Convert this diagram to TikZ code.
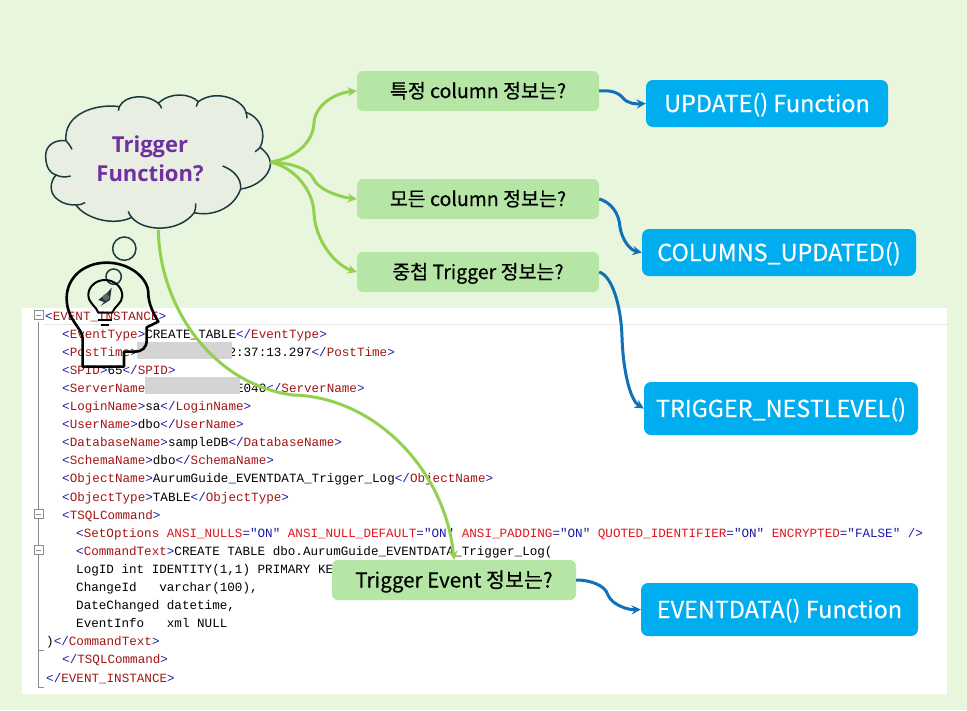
\documentclass[tikz,border=0pt]{standalone}
\usepackage{fontspec}
\setmainfont{Noto Sans CJK KR}[FakeBold=0.35]
\newfontfamily\codefont{Liberation Mono}
\newfontfamily\cloudfont{Open Sans}
\usetikzlibrary{calc}
\definecolor{bgcol}{HTML}{E9F6DE}
\definecolor{cloudcol}{HTML}{E8EFE2}
\definecolor{cloudline}{HTML}{1B3A40}
\definecolor{askcol}{HTML}{B6E6A6}
\definecolor{funccol}{HTML}{00AEEF}
\definecolor{greenline}{HTML}{92D050}
\definecolor{blueline}{HTML}{1070B8}
\definecolor{purpletext}{HTML}{7030A0}
\definecolor{xmlblue}{HTML}{1A1AA6}
\definecolor{xmlname}{HTML}{A31515}
\definecolor{xmlattr}{HTML}{E0141E}
\newcommand{\xo}[1]{\textcolor{xmlblue}{<}\textcolor{xmlname}{#1}\textcolor{xmlblue}{>}}
\newcommand{\xc}[1]{\textcolor{xmlblue}{</}\textcolor{xmlname}{#1}\textcolor{xmlblue}{>}}
\newcommand{\xa}[2]{\textcolor{xmlattr}{#1}\textcolor{xmlblue}{="#2"}}
\begin{document}
\begin{tikzpicture}[x=1pt, y=-1pt,
    ask/.style = {fill=askcol, rounded corners=6pt, minimum width=242pt, minimum height=40pt, inner sep=0pt, text height=18pt, text depth=4pt, font=\fontsize{19.5}{22}\selectfont},
    func/.style = {fill=funccol, text=white, rounded corners=7pt, inner sep=0pt, text height=22pt, text depth=5pt, font=\fontsize{23.4}{26}\selectfont},
    code/.style = {anchor=base west, inner sep=0pt, font=\codefont\fontsize{12.6}{15}\selectfont},
    hidden/.style = {fill=black!17},
    greenarrow/.style = {-stealth, line width=3pt, greenline},
    bluearrow/.style = {-stealth, line width=3pt, blueline},
    gutter/.style = {draw=black!45, line width=.7pt}]
  \useasboundingbox (0,0) rectangle (967,710);
  \fill [bgcol] (0,0) rectangle (967,710);
  \fill [white] (22,308) rectangle (947,694);
  \draw [black!10, line width=1pt] (44,324.5) -- (947,324.5);

  % tree gutter
  \draw [gutter] (38.5,322) -- (38.5,687) -- (44,687);
  \draw [gutter] (38.5,650) -- (44,650);
  \foreach \y in {315, 514, 550}
           {
             \draw [gutter, fill=white] (34,\y-4.5) rectangle +(9,9);
             \draw [gutter] (36,\y) -- (41,\y);
           }

  \node [code] (line0) at (45,320) {\xo{EVENT\_INSTANCE}};
  \node [code] (line1) at (62,338.1) {\xo{EventType}CREATE\_TABLE\xc{EventType}};
  \node [code] (line2) at (62,356.2) {\xo{PostTime}\hspace{90.7pt}2:37:13.297\xc{PostTime}};
  \node [code] (line3) at (62,374.3) {\xo{SPID}65\xc{SPID}};
  \node [code] (line4) at (62,392.4) {\textcolor{xmlblue}{<}\textcolor{xmlname}{ServerName}\hspace{90.7pt}E040\xc{ServerName}};
  \node [code] (line5) at (62,410.5) {\xo{LoginName}sa\xc{LoginName}};
  \node [code] (line6) at (62,428.6) {\xo{UserName}dbo\xc{UserName}};
  \node [code] (line7) at (62,446.7) {\xo{DatabaseName}sampleDB\xc{DatabaseName}};
  \node [code] (line8) at (62,464.8) {\xo{SchemaName}dbo\xc{SchemaName}};
  \node [code] (line9) at (62,482.9) {\xo{ObjectName}AurumGuide\_EVENTDATA\_Trigger\_Log\xc{ObjectName}};
  \node [code] (line10) at (62,501) {\xo{ObjectType}TABLE\xc{ObjectType}};
  \node [code] (line11) at (62,519.1) {\xo{TSQLCommand}};
  \node [code] (line12) at (76,537.2) {\textcolor{xmlblue}{<}\textcolor{xmlname}{SetOptions} \xa{ANSI\_NULLS}{ON} \xa{ANSI\_NULL\_DEFAULT}{ON} \xa{ANSI\_PADDING}{ON} \xa{QUOTED\_IDENTIFIER}{ON} \xa{ENCRYPTED}{FALSE} \textcolor{xmlblue}{/>}};
  \node [code] (line13) at (76,555.3) {\xo{CommandText}CREATE TABLE dbo.AurumGuide\_EVENTDATA\_Trigger\_Log(};
  \node [code] (line14) at (76,573.4) {LogID int IDENTITY(1,1) PRIMARY KE};
  \node [code] (line15) at (76,591.5) {ChangeId~~~varchar(100),};
  \node [code] (line16) at (76,609.6) {DateChanged datetime,};
  \node [code] (line17) at (76,627.7) {EventInfo~~~xml NULL};
  \node [code] (line18) at (46,645.8) {)\xc{CommandText}};
  \node [code] (line19) at (62,663.9) {\xc{TSQLCommand}};
  \node [code] (line20) at (46,682) {\xc{EVENT\_INSTANCE}};
  \fill [hidden] (137,342) rectangle (232,359);
  \fill [hidden] (145,377) rectangle (239.5,394);

  % cloud
  \begin{scope}[shift={(30,90)}, x=.3333pt, y=-.3333pt]
    \draw [fill=cloudcol, draw=cloudline, line width=1.5pt]
      (108,152) .. controls (70,148) and (45,170) .. (47,200)
      .. controls (48,232) and (60,250) .. (78,255)
      .. controls (60,275) and (55,310) .. (85,330)
      .. controls (100,342) and (120,345) .. (138,345)
      .. controls (165,385) and (250,410) .. (305,382)
      .. controls (340,425) and (445,430) .. (493,368)
      .. controls (540,380) and (610,360) .. (632,297)
      .. controls (690,290) and (735,240) .. (718,205)
      .. controls (712,190) and (700,180) .. (690,172)
      .. controls (712,130) and (690,80) .. (648,67)
      .. controls (640,30) and (560,-5) .. (505,35)
      .. controls (480,10) and (420,5) .. (385,40)
      .. controls (350,10) and (285,15) .. (268,50)
      .. controls (200,40) and (100,70) .. (108,152) -- cycle;
    \draw [draw=cloudline, line width=1.5pt]
      (108,152) .. controls (115,160) and (122,168) .. (126,178)
      (78,255) .. controls (92,262) and (108,262) .. (122,258)
      (138,345) .. controls (148,345) and (158,343) .. (165,338)
      (305,382) .. controls (300,376) and (296,370) .. (295,364)
      (493,368) .. controls (496,360) and (498,350) .. (497,340)
      (632,297) .. controls (635,265) and (610,240) .. (578,228)
      (690,172) .. controls (686,178) and (681,182) .. (675,185)
      (648,67) .. controls (650,73) and (651,79) .. (651,85)
      (505,35) .. controls (502,40) and (500,45) .. (499,50)
      (385,40) .. controls (390,44) and (393,49) .. (395,55)
      (268,50) .. controls (266,54) and (265,58) .. (265,62);
    \coordinate (cloudright) at (722,216);
    \coordinate (cloudbottom) at (385,420);
    % thought bubbles
    \draw [draw=cloudline, line width=1.5pt] (283,476) circle [radius=35];
    \draw [draw=cloudline, line width=1.5pt] (251,560) circle [radius=23];
  \end{scope}
  \node [align=center, text=purpletext, font=\cloudfont\bfseries\fontsize{22}{29}\selectfont] (cloudtext) at (150,158.5) {Trigger\\Function?};

  % boxes
  \node [ask] (column) at (478,91) {특정 column 정보는?};
  \node [ask] (allcolumn) at (478,199) {모든 column 정보는?};
  \node [ask] (nested) at (478,272) {중첩 Trigger 정보는?};
  \node [ask, minimum width=244pt, text height=19pt, font=\fontsize{20.6}{22}\selectfont] (event) at (454,580) {Trigger Event 정보는?};
  \node [func, minimum width=242pt, minimum height=47pt] (update) at (767,103.5) {UPDATE() Function};
  \node [func, minimum width=274pt, minimum height=47pt] (columns) at (779,252.5) {COLUMNS\_UPDATED()};
  \node [func, minimum width=274pt, minimum height=53pt] (nestlevel) at (781,408.5) {TRIGGER\_NESTLEVEL()};
  \node [func, minimum width=277pt, minimum height=53pt] (eventdata) at (779.5,609.5) {EVENTDATA() Function};

  % connectors
  \draw [greenarrow] (cloudright) .. controls (295,158) and (313,143) .. (314,123) .. controls (315,105) and (335,93) .. (column.west);
  \draw [greenarrow] (cloudright) .. controls (290,163) and (308,168) .. (313,178) .. controls (318,190) and (340,197) .. (allcolumn.west);
  \draw [greenarrow] (cloudright) .. controls (295,168) and (313,190) .. (314,213) .. controls (315,240) and (335,265) .. (nested.west);
  \draw [greenarrow] (cloudbottom) .. controls (160,310) and (215,385) .. (293,395) .. controls (375,397) and (445,470) .. (event.north);
  \draw [bluearrow] (column.east) .. controls (610,90) and (618,92) .. (623,98) .. controls (628,104) and (636,104) .. (update.west);
  \draw [bluearrow] (allcolumn.east) .. controls (610,202) and (619,212) .. (620,227) .. controls (622,240) and (630,250) .. (columns.west);
  \draw [bluearrow] (nested.east) .. controls (612,276) and (621,305) .. (622,337) .. controls (623,370) and (630,400) .. (nestlevel.west);
  \draw [bluearrow] (event.east) .. controls (590,580) and (605,585) .. (608,595) .. controls (612,605) and (628,610) .. (eventdata.west);

  % head with bulb
  \begin{scope}[shift={(30,90)}, x=.3333pt, y=-.3333pt, line width=2.6pt, line join=round]
    \draw (158,830) -- (158,745) .. controls (158,715) and (110,690) .. (110,625)
      .. controls (110,560) and (165,518) .. (230,518)
      .. controls (300,518) and (355,565) .. (355,610)
      .. controls (355,640) and (370,670) .. (385,695)
      -- (350,712) -- (350,750) .. controls (350,775) and (335,785) .. (315,785)
      -- (282,785) -- (282,830) -- cycle;
    \draw [line width=2pt] (205,668) .. controls (200,650) and (175,640) .. (175,615)
      .. controls (175,590) and (198,570) .. (225,570)
      .. controls (252,570) and (277,590) .. (277,618)
      .. controls (277,640) and (252,650) .. (247,668) -- cycle;
    \draw [line width=2pt] (205,690) -- (245,690);
    \draw [line width=2pt] (213,706) -- (237,706);
    \fill [cloudline] (245,593) -- (232,608) -- (205,630) -- (222,636) -- (212,648) -- (240,630) -- cycle;
    \fill [black!60] (228,622) circle [radius=10];
  \end{scope}
\end{tikzpicture}
\end{document}
